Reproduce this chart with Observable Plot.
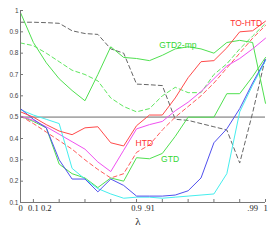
<!DOCTYPE html>
<html><head><meta charset="utf-8">
<script src="https://cdn.jsdelivr.net/npm/d3@7"></script>
<script src="https://cdn.jsdelivr.net/npm/@observablehq/plot@0.6"></script>
<style>body{margin:0;background:#fff;}</style>
</head><body><div id="chart"></div>
<script>
// λ values (categories, one per data point)
const lambdas = ["0","0.1","0.2","0.3","0.4","0.5","0.6","0.7","0.8","0.9",".91",".92",".93",".94",".95",".96",".97",".98",".99","1"];
const xLabelIdx = [0,1,2,9,10,18,19];
const xTickIdx = [1,3,5,7,9,11,13,15,17,19];
const yTicks = [0.1,0.2,0.3,0.4,0.5,0.6,0.7,0.8,0.9,1];
const refLine = [0.5];

const toHtd   = [0.525,0.50,0.465,0.435,0.418,0.45,0.455,0.38,0.365,0.46,0.51,0.51,0.59,0.685,0.76,0.765,0.825,0.90,0.905,0.95];
const htd     = [0.505,0.47,0.43,0.39,0.35,0.30,0.255,0.215,0.235,0.335,0.37,0.44,0.50,0.55,0.60,0.66,0.73,0.80,0.87,0.93];
const magenta = [0.505,0.485,0.455,0.42,0.385,0.35,0.29,0.245,0.345,0.445,0.465,0.48,0.53,0.57,0.62,0.68,0.74,0.775,0.82,0.87];
const gtd     = [0.505,0.48,0.45,0.28,0.235,0.215,0.17,0.215,0.20,0.31,0.305,0.33,0.41,0.50,0.50,0.50,0.61,0.61,0.69,0.78];
const gtd2mp  = [0.99,0.85,0.755,0.68,0.625,0.577,0.70,0.83,0.78,0.775,0.765,0.79,0.82,0.83,0.82,0.80,0.85,0.86,0.85,0.565];
const gtdDash = [0.848,0.835,0.80,0.76,0.72,0.70,0.67,0.59,0.55,0.525,0.54,0.60,0.64,0.615,0.615,0.70,0.75,0.82,0.88,0.94];
const blue    = [0.54,0.49,0.45,0.30,0.21,0.21,0.15,0.21,0.18,0.13,0.13,0.13,0.135,0.155,0.215,0.38,0.445,0.54,0.66,0.77];
const cyan    = [0.535,0.51,0.49,0.47,0.26,0.21,0.165,0.14,0.12,0.125,0.125,0.12,0.125,0.13,0.135,0.14,0.235,0.525,0.65,0.765];
const grayDash= [0.945,0.945,0.943,0.94,0.905,0.892,0.888,0.82,0.80,0.655,0.652,0.648,0.49,0.485,0.47,0.455,0.44,0.285,0.52,0.78];

const curveLabels = [
  {text:"TO-HTD", x:17.5, y:0.94, color:"#ff3030"},
  {text:"GTD2-mp", x:12.2, y:0.836, color:"#33d633"},
  {text:"HTD", x:9.6, y:0.376, color:"#ff3030"},
  {text:"GTD", x:11.6, y:0.305, color:"#33d633"}
];

const series = [
  {v: grayDash, stroke:"#666", dash:"4,3"},
  {v: gtdDash, stroke:"#5ee65e", dash:"4,3"},
  {v: htd, stroke:"#ff5a5a", dash:"4,3"},
  {v: gtd2mp, stroke:"#4fe04f", dash:null},
  {v: gtd, stroke:"#4fe04f", dash:null},
  {v: magenta, stroke:"#f050f0", dash:null},
  {v: cyan, stroke:"#45eeee", dash:null},
  {v: blue, stroke:"#5050ee", dash:null},
  {v: toHtd, stroke:"#ff4a4a", dash:null}
];

const lineMarks = series.map(s => Plot.line(s.v.map((v,i)=>({i, v})), {
  x: d => d.i, y: d => d.v, stroke: s.stroke, strokeWidth: 1, strokeDasharray: s.dash
}));

const chart = Plot.plot({
  width: 277, height: 240,
  marginLeft: 20, marginRight: 12, marginTop: 10, marginBottom: 38,
  x: {domain: [0, 19]},
  y: {domain: [0.1, 1]},
  style: {fontFamily: "Liberation Sans, Arial, sans-serif", background: "#fff"},
  marks: [
    Plot.ruleY(refLine, {stroke: "#aaa", strokeWidth: 1.8}),
    ...lineMarks,
    Plot.ruleX([0], {stroke: "#777"}),
    Plot.ruleY([0.1], {stroke: "#777"}),
    Plot.axisY(yTicks, {anchor: "left", tickSize: 3, dx: 3, tickFormat: () => "", stroke: "#777", label: null}),
    Plot.axisY(yTicks, {anchor: "left", tickSize: 0, tickPadding: 2, tickFormat: d => d === 1 ? "1" : d.toFixed(1), fontSize: 6.5, fill: "#444", label: null}),
    Plot.axisX(xTickIdx, {anchor: "bottom", tickSize: 3, dy: -3, tickFormat: () => "", stroke: "#777", label: null}),
    Plot.axisX(xLabelIdx, {anchor: "bottom", tickSize: 0, tickPadding: 2, tickFormat: i => lambdas[i], fontFamily: "Liberation Serif, Times New Roman, serif", fontSize: 8.5, fill: "#222", label: null}),
    Plot.text(["λ"], {frameAnchor: "bottom", dx: -5, dy: 22, fontFamily: "Liberation Serif, serif", fontSize: 11, fill: "#222"}),
    ...curveLabels.map(l => Plot.text([l], {x: "x", y: "y", text: "text", fill: l.color, fontSize: 8.5}))
  ]
});
document.getElementById("chart").appendChild(chart);
</script>
</body></html>
